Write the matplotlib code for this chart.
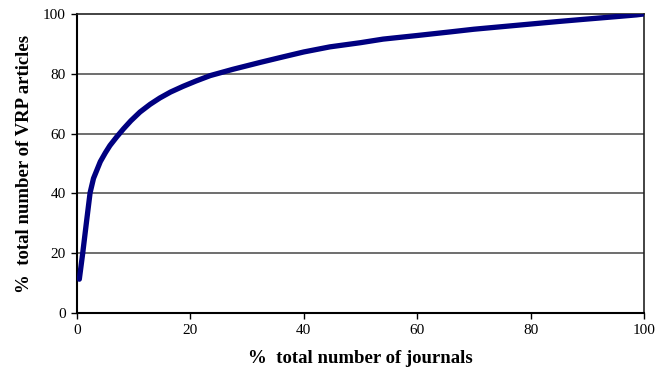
import matplotlib
matplotlib.use("Agg")
import matplotlib.pyplot as plt

journals_pct = [0.4, 1.0, 1.7, 2.3, 2.9, 4.1, 5.0, 5.8, 7.0, 8.2, 9.5, 11.1, 12.9, 14.6,
                16.5, 18.7, 21.0, 23.5, 27.5, 32.3, 36.0, 40.0, 44.6, 50.0, 54.0,
                60.0, 65.8, 70.0, 77.5, 85.0, 89.3, 95.0, 98.7, 100.0]
articles_pct = [11.3, 20.0, 31.0, 40.2, 45.0, 50.6, 53.6, 56.0, 58.9, 61.6, 64.3, 67.2, 69.8, 71.9,
                73.9, 75.8, 77.6, 79.4, 81.5, 83.8, 85.5, 87.3, 89.0, 90.4, 91.6,
                92.8, 94.0, 94.9, 96.2, 97.5, 98.2, 99.1, 99.7, 100.0]
x_ticks = [0, 20, 40, 60, 80, 100]
y_ticks = [0, 20, 40, 60, 80, 100]

plt.rcParams['font.family'] = ['Liberation Serif', 'DejaVu Serif']

fig = plt.figure(figsize=(6.7, 3.68), dpi=100)
ax = fig.add_axes([0.115, 0.1495, 0.846, 0.8125])

for t in y_ticks[1:-1]:
    ax.axhline(t, color='#555555', linewidth=1.2, zorder=1)

ax.plot(journals_pct, articles_pct, color='#000080', linewidth=3.8,
        solid_capstyle='round', solid_joinstyle='round', zorder=3)

ax.set_xlim(0, 100)
ax.set_ylim(0, 100)
ax.set_xticks(x_ticks)
ax.set_yticks(y_ticks)
ax.tick_params(direction='out', length=4, width=1, labelsize=11, pad=4)

for s in ['left', 'bottom']:
    ax.spines[s].set_linewidth(1.5)
    ax.spines[s].set_color('black')
for s in ['top', 'right']:
    ax.spines[s].set_linewidth(1.2)
    ax.spines[s].set_color('#222222')

ax.set_xlabel('%  total number of journals', fontsize=13.5, fontweight='bold', labelpad=9)
ax.set_ylabel('%  total number of VRP articles', fontsize=13.5, fontweight='bold', labelpad=7)

fig.savefig('out.png', dpi=100)
